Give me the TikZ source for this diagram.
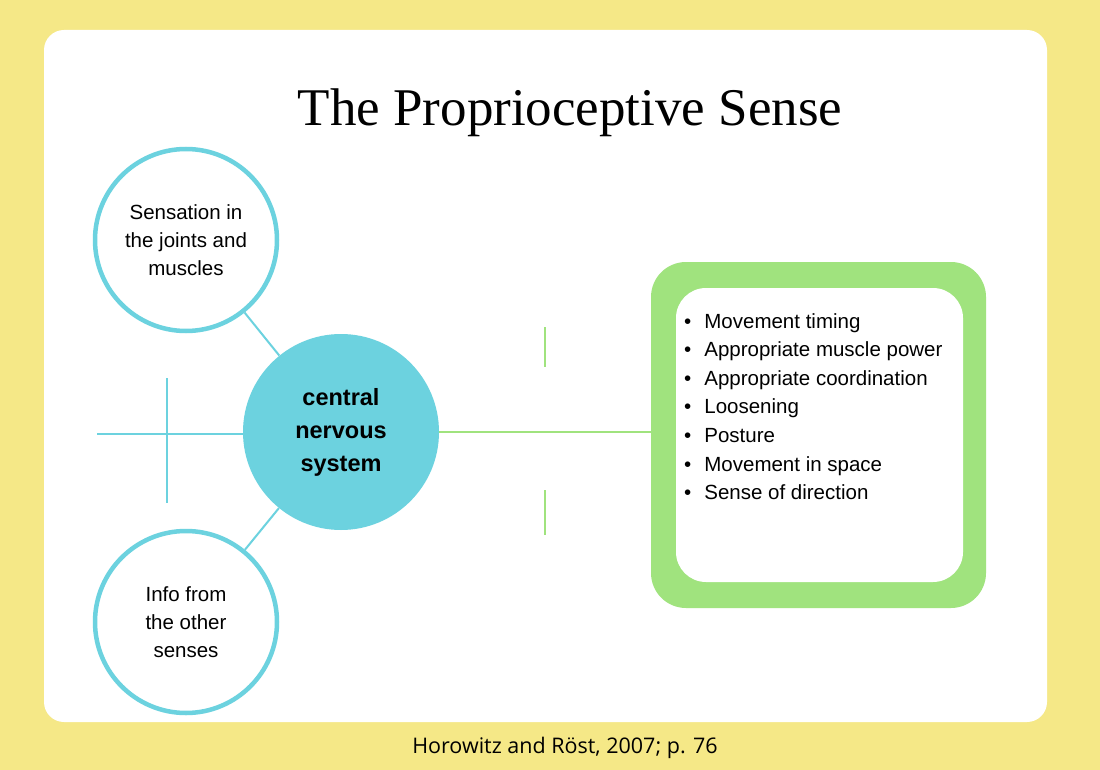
\documentclass[tikz,border=0pt]{standalone}
\usepackage{fontspec}
\setmainfont{Liberation Sans}
\newfontfamily\titlefont{Liberation Serif}
\newfontfamily\citefont{Open Sans}
\definecolor{paper}{HTML}{F5E887}
\definecolor{sky}{HTML}{6CD2DF}
\definecolor{leaf}{HTML}{A0E37E}
\begin{document}
\begin{tikzpicture}[x=1pt,y=-1pt,
  ring/.style={circle,draw=sky,line width=4.5pt,minimum size=182pt,align=center,font=\fontsize{20.5}{28}\selectfont,fill=white},
  skyline/.style={draw=sky,line width=2pt},
  leafline/.style={draw=leaf,line width=2pt}]
  \fill[paper] (0,0) rectangle (1100,770);
  \fill[white,rounded corners=20pt] (44,30) rectangle (1047,722);
  \node[font=\titlefont\fontsize{53}{60}\selectfont] (title) at (570,113) {The Proprioceptive Sense};
  % circles
  \node[ring] (joints) at (186,240) {Sensation in\\the joints and\\muscles};
  \node[ring] (senses) at (186,622) {Info from\\the other\\senses};
  \node[circle,fill=sky,minimum size=196pt,align=center,font=\bfseries\fontsize{23.5}{33}\selectfont] (cns) at (341,432) {central\\nervous\\system};
  \draw[skyline] (joints) -- (cns);
  \draw[skyline] (senses) -- (cns);
  \coordinate (hleft) at (97,434);
  \coordinate (vtop) at (167,378);
  \coordinate (vbot) at (167,503);
  \draw[skyline] (hleft) -- (cns.west |- hleft);
  \draw[skyline] (vtop) -- (vbot);
  % results box
  \fill[leaf,rounded corners=35pt] (651,262) rectangle (986,608);
  \node[fill=white,rounded corners=30pt,minimum width=287pt,minimum height=294pt] (box) at (819.5,435) {};
  \node[anchor=north west,font=\fontsize{20.5}{28.6}\selectfont,align=left,inner sep=0pt] (list) at (684,313)
    {\textbullet\hspace{13pt}Movement timing\\\textbullet\hspace{13pt}Appropriate muscle power\\\textbullet\hspace{13pt}Appropriate coordination\\\textbullet\hspace{13pt}Loosening\\\textbullet\hspace{13pt}Posture\\\textbullet\hspace{13pt}Movement in space\\\textbullet\hspace{13pt}Sense of direction};
  \coordinate (boxin) at (652,432);
  \draw[leafline] (cns.east) -- (boxin);
  \coordinate (ta) at (545,327);
  \coordinate (tb) at (545,367);
  \coordinate (tc) at (545,490);
  \coordinate (td) at (545,535);
  \draw[leafline] (ta) -- (tb);
  \draw[leafline] (tc) -- (td);
  \node[font=\citefont\fontsize{21.5}{24}\selectfont] (cite) at (565,748) {Horowitz and Röst, 2007; p. 76};
\end{tikzpicture}
\end{document}
